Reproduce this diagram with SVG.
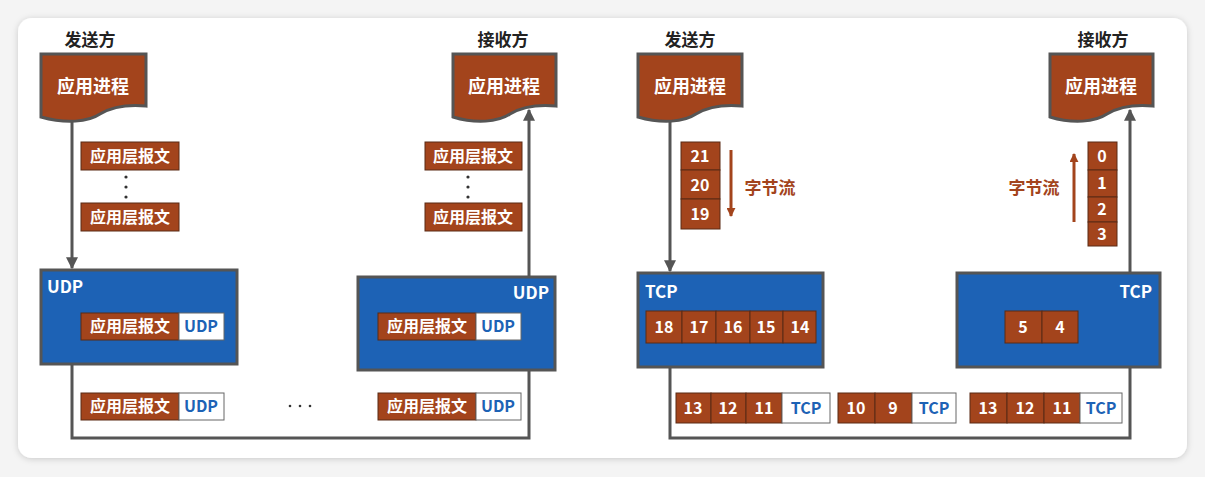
<svg xmlns="http://www.w3.org/2000/svg" width="1205" height="477" viewBox="0 0 1205 477">
<defs>
<style>
text{font-family:"Noto Sans CJK SC","Liberation Sans",sans-serif;font-weight:bold}
.br{fill:#A3441C;stroke:#5a2a14;stroke-width:1}
.wh{fill:#fff;stroke:#666;stroke-width:1}
.bl{fill:#1D62B5;stroke:#555;stroke-width:3}
.doc{fill:#A3441C;stroke:#555;stroke-width:3}
.w{fill:#fff;font-size:17px}
.n{fill:#fff;font-size:18px;text-anchor:middle}
.m{fill:#fff;font-size:16px;text-anchor:middle}
.u{fill:#1D62B5;font-size:16px;text-anchor:middle}
.lab{fill:#222;font-size:17px;text-anchor:middle}
.bf{fill:#A3441C;font-size:17px;text-anchor:middle}
.ln{fill:none;stroke:#555;stroke-width:3}
.ar{fill:none;stroke:#A3441C;stroke-width:3}
.dot{fill:#333}
</style>
<marker id="ah" viewBox="0 0 10 10" refX="9" refY="5" markerWidth="4" markerHeight="4" orient="auto"><path d="M0,0L10,5L0,10Z" fill="#555"/></marker>
<marker id="ahb" viewBox="0 0 10 10" refX="9" refY="5" markerWidth="3" markerHeight="3" orient="auto"><path d="M0,0L10,5L0,10Z" fill="#A3441C"/></marker>
<filter id="sh" x="-5%" y="-5%" width="110%" height="110%"><feDropShadow dx="0" dy="1" stdDeviation="3" flood-color="#000" flood-opacity="0.18"/></filter>
</defs>
<rect width="1205" height="477" fill="#f4f4f4"/>
<rect x="18" y="18" width="1169" height="440" rx="14" fill="#fff" filter="url(#sh)"/>

<g id="connectors">
<path class="ln" d="M72,120 V268" marker-end="url(#ah)"/>
<path class="ln" d="M72,364 V438 H529 V370"/>
<path class="ln" d="M529,277 V110" marker-end="url(#ah)"/>
<path class="ln" d="M670,120 V271" marker-end="url(#ah)"/>
<path class="ln" d="M670,367 V438 H1130 V367"/>
<path class="ln" d="M1130,273 V110" marker-end="url(#ah)"/>
<path class="ar" d="M731,150 V216" marker-end="url(#ahb)"/>
<path class="ar" d="M1074,222 V154" marker-end="url(#ahb)"/>
</g>

<g id="udp-sender">
<text class="lab" x="90" y="46">发送方</text>
<path class="doc" d="M41,54 H146 V106 C124,104 110,108 100,114 C88,122 66,124 41,117 Z"/>
<text class="n" x="93" y="93">应用进程</text>
</g>
<g id="udp-sender-msgs">
<rect class="br" x="81" y="142" width="98" height="28"/><text class="m" x="130" y="162">应用层报文</text>
<circle class="dot" cx="126" cy="177" r="1.6"/><circle class="dot" cx="126" cy="187" r="1.6"/><circle class="dot" cx="126" cy="197" r="1.6"/>
<rect class="br" x="81" y="203" width="98" height="28"/><text class="m" x="130" y="223">应用层报文</text>
</g>
<g id="udp-box-left">
<rect class="bl" x="41" y="270" width="196" height="94"/>
<text class="w" x="47" y="293">UDP</text>
<rect class="br" x="81" y="313" width="98" height="27"/><text class="m" x="130" y="332">应用层报文</text>
<rect class="wh" x="179" y="313" width="45" height="27"/><text class="u" x="201" y="332">UDP</text>
</g>
<g id="udp-wire">
<rect class="br" x="81" y="393" width="98" height="27"/><text class="m" x="130" y="412">应用层报文</text>
<rect class="wh" x="179" y="393" width="45" height="27"/><text class="u" x="201" y="412">UDP</text>
<circle class="dot" cx="290" cy="406" r="1.3"/><circle class="dot" cx="300" cy="406" r="1.3"/><circle class="dot" cx="310" cy="406" r="1.3"/>
<rect class="br" x="378" y="393" width="98" height="27"/><text class="m" x="427" y="412">应用层报文</text>
<rect class="wh" x="476" y="393" width="45" height="27"/><text class="u" x="498" y="412">UDP</text>
</g>
<g id="udp-box-right">
<rect class="bl" x="358" y="277" width="197" height="93"/>
<text class="w" x="549" y="299" text-anchor="end">UDP</text>
<rect class="br" x="378" y="313" width="98" height="27"/><text class="m" x="427" y="332">应用层报文</text>
<rect class="wh" x="476" y="313" width="45" height="27"/><text class="u" x="498" y="332">UDP</text>
</g>
<g id="udp-receiver">
<text class="lab" x="503" y="46">接收方</text>
<path class="doc" d="M453,54 H556 V106 C534,104 520,108 510,114 C498,122 476,124 453,117 Z"/>
<text class="n" x="504" y="93">应用进程</text>
<rect class="br" x="425" y="142" width="97" height="28"/><text class="m" x="473" y="162">应用层报文</text>
<circle class="dot" cx="468" cy="177" r="1.6"/><circle class="dot" cx="468" cy="187" r="1.6"/><circle class="dot" cx="468" cy="197" r="1.6"/>
<rect class="br" x="425" y="203" width="97" height="28"/><text class="m" x="473" y="223">应用层报文</text>
</g>

<g id="tcp-sender">
<text class="lab" x="690" y="46">发送方</text>
<path class="doc" d="M638,54 H742 V106 C720,104 706,108 696,114 C684,122 662,124 638,117 Z"/>
<text class="n" x="690" y="93">应用进程</text>
<rect class="br" x="681" y="142" width="39" height="28"/><text class="m" x="700" y="162">21</text>
<rect class="br" x="681" y="170" width="39" height="29"/><text class="m" x="700" y="191">20</text>
<rect class="br" x="681" y="199" width="39" height="30"/><text class="m" x="700" y="220">19</text>
<text class="bf" x="770" y="194">字节流</text>
</g>
<g id="tcp-box-left">
<rect class="bl" x="638" y="273" width="185" height="94"/>
<text class="w" x="645" y="298">TCP</text>
<rect class="br" x="646" y="311" width="36" height="32"/><text class="m" x="664" y="333">18</text>
<rect class="br" x="682" y="311" width="34" height="32"/><text class="m" x="699" y="333">17</text>
<rect class="br" x="716" y="311" width="34" height="32"/><text class="m" x="733" y="333">16</text>
<rect class="br" x="750" y="311" width="33" height="32"/><text class="m" x="766" y="333">15</text>
<rect class="br" x="783" y="311" width="33" height="32"/><text class="m" x="800" y="333">14</text>
</g>
<g id="tcp-wire">
<rect class="br" x="676" y="393" width="35" height="30"/><text class="m" x="693" y="414">13</text>
<rect class="br" x="711" y="393" width="35" height="30"/><text class="m" x="728" y="414">12</text>
<rect class="br" x="746" y="393" width="36" height="30"/><text class="m" x="764" y="414">11</text>
<rect class="wh" x="782" y="393" width="48" height="30"/><text class="u" x="806" y="414">TCP</text>
<rect class="br" x="838" y="393" width="37" height="30"/><text class="m" x="856" y="414">10</text>
<rect class="br" x="875" y="393" width="37" height="30"/><text class="m" x="893" y="414">9</text>
<rect class="wh" x="912" y="393" width="44" height="30"/><text class="u" x="934" y="414">TCP</text>
<rect class="br" x="970" y="393" width="37" height="30"/><text class="m" x="988" y="414">13</text>
<rect class="br" x="1007" y="393" width="37" height="30"/><text class="m" x="1025" y="414">12</text>
<rect class="br" x="1044" y="393" width="36" height="30"/><text class="m" x="1062" y="414">11</text>
<rect class="wh" x="1080" y="393" width="42" height="30"/><text class="u" x="1101" y="414">TCP</text>
</g>
<g id="tcp-box-right">
<rect class="bl" x="957" y="273" width="203" height="94"/>
<text class="w" x="1152" y="298" text-anchor="end">TCP</text>
<rect class="br" x="1005" y="311" width="37" height="32"/><text class="m" x="1023" y="333">5</text>
<rect class="br" x="1042" y="311" width="36" height="32"/><text class="m" x="1060" y="333">4</text>
</g>
<g id="tcp-receiver">
<text class="lab" x="1103" y="46">接收方</text>
<path class="doc" d="M1050,54 H1153 V106 C1131,104 1117,108 1107,114 C1095,122 1073,124 1050,117 Z"/>
<text class="n" x="1101" y="93">应用进程</text>
<rect class="br" x="1088" y="142" width="29" height="28"/><text class="m" x="1102" y="162">0</text>
<rect class="br" x="1088" y="170" width="29" height="27"/><text class="m" x="1102" y="189">1</text>
<rect class="br" x="1088" y="197" width="29" height="25"/><text class="m" x="1102" y="215">2</text>
<rect class="br" x="1088" y="222" width="29" height="24"/><text class="m" x="1102" y="240">3</text>
<text class="bf" x="1034" y="194">字节流</text>
</g>
</svg>
